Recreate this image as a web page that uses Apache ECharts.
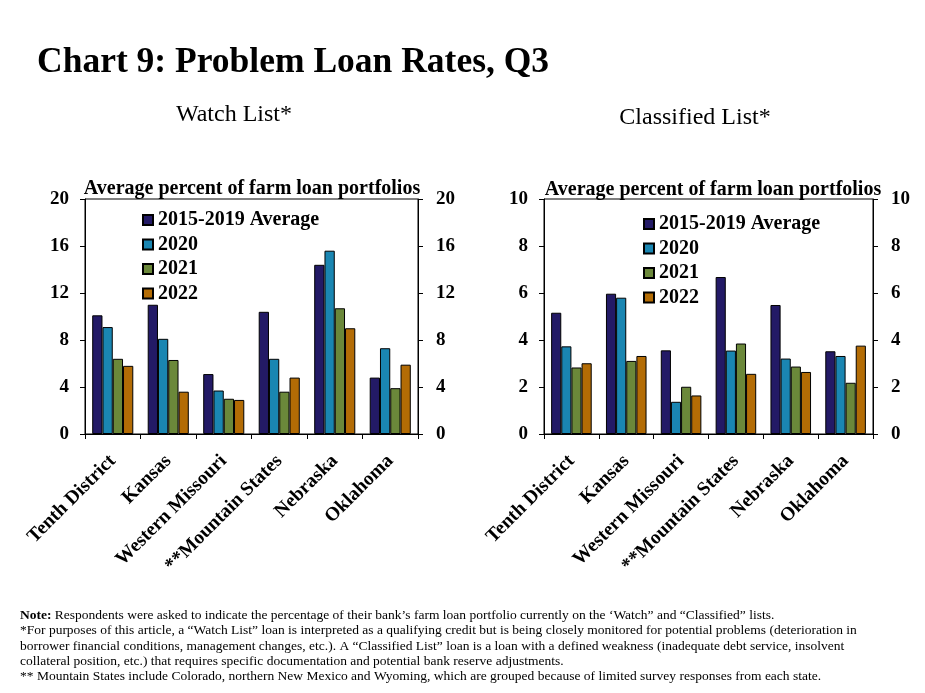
<!DOCTYPE html>
<html>
<head>
<meta charset="utf-8">
<script src="https://cdn.jsdelivr.net/npm/echarts@6/dist/echarts.min.js"></script>
<style>
html,body{margin:0;padding:0;background:#fff;}
#chart{width:925px;height:693px;}
</style>
</head>
<body>
<div id="chart"></div>
<script>
const categories = ['Tenth District', 'Kansas', 'Western Missouri', '**Mountain States', 'Nebraska', 'Oklahoma'];
const seriesNames = ['2015-2019 Average', '2020', '2021', '2022'];
const seriesColors = ['#231a66', '#1a86b2', '#6b883a', '#b36c05'];

const watchAvg1519 = [10.1, 11.0, 5.1, 10.4, 14.4, 4.8];
const watch2020    = [9.1, 8.1, 3.7, 6.4, 15.6, 7.3];
const watch2021    = [6.4, 6.3, 3.0, 3.6, 10.7, 3.9];
const watch2022    = [5.8, 3.6, 2.9, 4.8, 9.0, 5.9];

const classAvg1519 = [5.16, 5.97, 3.56, 6.68, 5.49, 3.52];
const class2020    = [3.73, 5.80, 1.37, 3.55, 3.21, 3.32];
const class2021    = [2.83, 3.11, 2.01, 3.85, 2.87, 2.18];
const class2022    = [3.01, 3.32, 1.64, 2.56, 2.64, 3.76];

const watchTicks = [0, 4, 8, 12, 16, 20];
const classTicks = [0, 2, 4, 6, 8, 10];

const watchData = [watchAvg1519, watch2020, watch2021, watch2022];
const classData = [classAvg1519, class2020, class2021, class2022];

const FONT = '"Liberation Serif", "Times New Roman", serif';

function yAxisDef(gridIndex, ticks, position) {
  return {
    type: 'value', gridIndex: gridIndex, position: position,
    min: ticks[0], max: ticks[ticks.length - 1], interval: ticks[1] - ticks[0],
    splitLine: { show: false },
    axisLine: { show: true, lineStyle: { color: '#000', width: 1 } },
    axisTick: { show: true, inside: false, length: 5, lineStyle: { color: '#000' } },
    axisLabel: { color: '#000', fontFamily: FONT, fontWeight: 'bold', fontSize: 19,
                 margin: position === 'left' ? 16 : 18 }
  };
}
function xAxisDef(gridIndex) {
  return {
    type: 'category', gridIndex: gridIndex, data: categories,
    axisLine: { show: true, lineStyle: { color: '#000', width: 1 } },
    axisTick: { show: true, inside: false, length: 5, alignWithLabel: false, lineStyle: { color: '#000' } },
    axisLabel: { color: '#000', fontFamily: FONT, fontWeight: 'bold', fontSize: 19.5, rotate: 45, margin: 24, interval: 0 }
  };
}

const series = [];
[watchData, classData].forEach(function (dataSet, g) {
  dataSet.forEach(function (vals, i) {
    series.push({
      name: seriesNames[i], type: 'bar',
      xAxisIndex: g, yAxisIndex: g * 2,
      data: vals,
      barGap: '0%', barCategoryGap: '26%',
      itemStyle: { color: seriesColors[i], borderColor: '#000', borderWidth: 1 },
      emphasis: { disabled: true }
    });
  });
});

function legendDef(left, top) {
  return {
    data: seriesNames, orient: 'vertical', left: left, top: top,
    itemWidth: 10, itemHeight: 10, itemGap: 4.5, icon: 'rect',
    selectedMode: false,
    textStyle: { color: '#000', fontFamily: FONT, fontWeight: 'bold', fontSize: 20, lineHeight: 20, padding: [0, 0, 0, 0] }
  };
}

const option = {
  animation: false,
  backgroundColor: '#fff',
  title: [
    { text: 'Chart 9: Problem Loan Rates, Q3', left: 32, top: 40,
      textStyle: { fontFamily: FONT, fontWeight: 'bold', fontSize: 35.5, color: '#000' } },
    { text: 'Watch List*', left: 229, top: 98, textAlign: 'center',
      textStyle: { fontFamily: FONT, fontWeight: 'normal', fontSize: 24, color: '#000' } },
    { text: 'Classified List*', left: 690, top: 101, textAlign: 'center',
      textStyle: { fontFamily: FONT, fontWeight: 'normal', fontSize: 24, color: '#000' } },
    { text: 'Average percent of farm loan portfolios', left: 247, top: 174, textAlign: 'center',
      textStyle: { fontFamily: FONT, fontWeight: 'bold', fontSize: 20, color: '#000' } },
    { text: 'Average percent of farm loan portfolios', left: 708, top: 175, textAlign: 'center',
      textStyle: { fontFamily: FONT, fontWeight: 'bold', fontSize: 20, color: '#000' } }
  ],
  legend: [legendDef(137, 205), legendDef(638, 209)],
  grid: [
    { left: 85, right: 925 - 418, top: 199, height: 235, show: true, borderColor: '#000', borderWidth: 1, backgroundColor: 'transparent' },
    { left: 544, right: 925 - 873, top: 199, height: 235, show: true, borderColor: '#000', borderWidth: 1, backgroundColor: 'transparent' }
  ],
  xAxis: [xAxisDef(0), xAxisDef(1)],
  yAxis: [
    yAxisDef(0, watchTicks, 'left'), yAxisDef(0, watchTicks, 'right'),
    yAxisDef(1, classTicks, 'left'), yAxisDef(1, classTicks, 'right')
  ],
  series: series,
  graphic: [
    {
      type: 'text', left: 20, top: 608,
      style: {
        text: '{b|Note:} Respondents were asked to indicate the percentage of their bank\u2019s farm loan portfolio currently on the \u2018Watch\u201d and \u201cClassified\u201d lists.\n' +
              '*For purposes of this article, a \u201cWatch List\u201d loan is interpreted as a qualifying credit but is being closely monitored for potential problems (deterioration in\n' +
              'borrower financial conditions, management changes, etc.). A \u201cClassified List\u201d loan is a loan with a defined weakness (inadequate debt service, insolvent\n' +
              'collateral position, etc.) that requires specific documentation and potential bank reserve adjustments.\n' +
              '** Mountain States include Colorado, northern New Mexico and Wyoming, which are grouped because of limited survey responses from each state.',
        font: '13.5px ' + FONT,
        fill: '#000',
        lineHeight: 15.3,
        rich: { b: { fontWeight: 'bold', fontFamily: FONT, fontSize: 13.5, lineHeight: 15.3 } }
      }
    }
  ]
};

const chart = echarts.init(document.getElementById('chart'));
chart.setOption(option);
</script>
</body>
</html>
